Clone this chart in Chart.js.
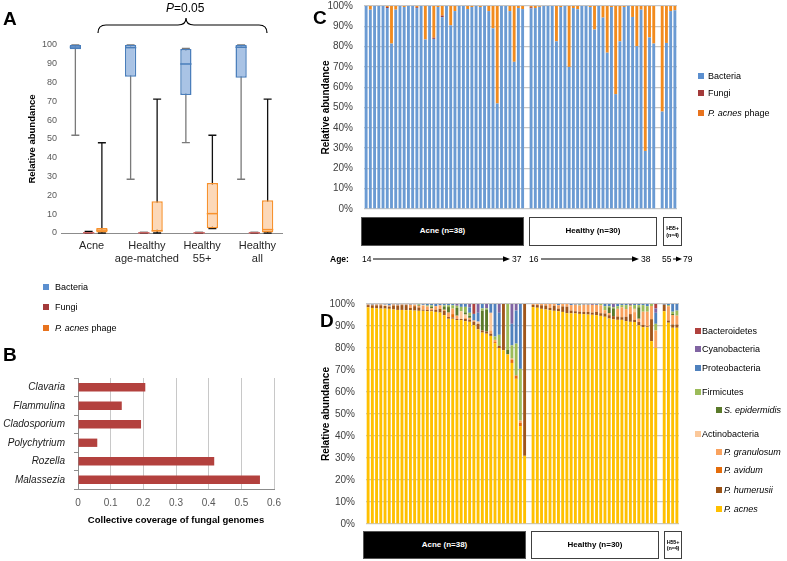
<!DOCTYPE html>
<html>
<head>
<meta charset="utf-8">
<script src="https://cdn.jsdelivr.net/npm/chart.js@4.4.1/dist/chart.umd.min.js"></script>
<style>
  body { margin: 0; background: #fff; }
  #page { position: relative; width: 787px; height: 561px; overflow: hidden; font-family: 'Liberation Sans', Arial, sans-serif; color: #000; }
  canvas { position: absolute; }
  .t { position: absolute; line-height: 1; white-space: nowrap; transform: translateY(-50%); }
  .letter { font-size: 19px; font-weight: bold; }
  .lg { font-size: 9px; }
  .sq { position: absolute; width: 6px; height: 6px; }
  .grp { position: absolute; box-sizing: border-box; display: flex; align-items: center; justify-content: center; text-align: center; font-weight: bold; font-size: 8px; line-height: 1.1; }
  .dark { background: #000; color: #fff; border: 1px solid #555; }
  .light { background: #fff; color: #000; border: 1.5px solid #404040; }
  .tiny { font-size: 5.5px; letter-spacing: -0.2px; }
  .age { font-size: 8.5px; }
  svg { position: absolute; left: 0; top: 0; }
</style>
</head>
<body>
<div id="page">
  <canvas id="chartA" width="300" height="270" style="left:0;top:0"></canvas>
  <canvas id="chartB" width="300" height="175" style="left:0;top:360px"></canvas>
  <canvas id="chartC" width="367" height="219" style="left:320px;top:-4px"></canvas>
  <canvas id="chartD" width="367" height="232" style="left:320px;top:298px"></canvas>

  <svg width="787" height="561">
    <path d="M98 33 Q98 25 106 25 L178 25 Q186 25 186 18 Q186 25 194 25 L259 25 Q267 25 267 33" fill="none" stroke="#000" stroke-width="1.2"/>
    <line x1="373" y1="259" x2="505" y2="259" stroke="#000" stroke-width="1"/>
    <polygon points="510,259 503,256.3 503,261.7" fill="#000"/>
    <line x1="541" y1="259" x2="634" y2="259" stroke="#000" stroke-width="1"/>
    <polygon points="639,259 632,256.3 632,261.7" fill="#000"/>
    <line x1="673" y1="259" x2="678" y2="259" stroke="#000" stroke-width="1"/>
    <polygon points="682,259 676,256.5 676,261.5" fill="#000"/>
  </svg>

  <!-- panel letters -->
  <div class="t letter" style="left:3px;top:18px">A</div>
  <div class="t letter" style="left:3px;top:354px">B</div>
  <div class="t letter" style="left:313px;top:17px">C</div>
  <div class="t letter" style="left:320px;top:320px">D</div>

  <div class="t" style="left:166px;top:8px;font-size:12px"><i>P</i>=0.05</div>

  <!-- legend A -->
  <div class="sq" style="left:43px;top:284px;background:#5B8FCF"></div>
  <div class="t lg" style="left:55px;top:287px">Bacteria</div>
  <div class="sq" style="left:43px;top:304px;background:#A33A3A"></div>
  <div class="t lg" style="left:55px;top:307px">Fungi</div>
  <div class="sq" style="left:43px;top:325px;background:#E8731E"></div>
  <div class="t lg" style="left:55px;top:328px"><i>P. acnes</i> phage</div>

  <!-- legend C -->
  <div class="sq" style="left:698px;top:73px;background:#5B8FCF"></div>
  <div class="t lg" style="left:708px;top:76px">Bacteria</div>
  <div class="sq" style="left:698px;top:90px;background:#A33A3A"></div>
  <div class="t lg" style="left:708px;top:93px">Fungi</div>
  <div class="sq" style="left:698px;top:110px;background:#E8731E"></div>
  <div class="t lg" style="left:708px;top:113px"><i>P. acnes</i> phage</div>

  <!-- groups under C -->
  <div class="grp dark" style="left:361px;top:217px;width:163px;height:29px">Acne (n=38)</div>
  <div class="grp light" style="left:529px;top:217px;width:128px;height:29px">Healthy (n=30)</div>
  <div class="grp light tiny" style="left:663px;top:217px;width:19px;height:29px">H55+<br>(n=4)</div>
  <div class="t age" style="left:330px;top:259px;font-weight:bold">Age:</div>
  <div class="t age" style="left:362px;top:259px">14</div>
  <div class="t age" style="left:512px;top:259px">37</div>
  <div class="t age" style="left:529px;top:259px">16</div>
  <div class="t age" style="left:641px;top:259px">38</div>
  <div class="t age" style="left:662px;top:259px">55</div>
  <div class="t age" style="left:683px;top:259px">79</div>

  <!-- legend D -->
  <div class="sq" style="left:695px;top:328px;background:#B0413E"></div>
  <div class="t lg" style="left:702px;top:331px">Bacteroidetes</div>
  <div class="sq" style="left:695px;top:346px;background:#8064A2"></div>
  <div class="t lg" style="left:702px;top:349px">Cyanobacteria</div>
  <div class="sq" style="left:695px;top:365px;background:#4F81BD"></div>
  <div class="t lg" style="left:702px;top:368px">Proteobacteria</div>
  <div class="sq" style="left:695px;top:389px;background:#9BBB59"></div>
  <div class="t lg" style="left:702px;top:392px">Firmicutes</div>
  <div class="sq" style="left:716px;top:407px;background:#5A7A2A"></div>
  <div class="t lg" style="left:724px;top:410px"><i>S. epidermidis</i></div>
  <div class="sq" style="left:695px;top:431px;background:#FBC89A"></div>
  <div class="t lg" style="left:702px;top:434px">Actinobacteria</div>
  <div class="sq" style="left:716px;top:449px;background:#F9A25E"></div>
  <div class="t lg" style="left:724px;top:452px"><i>P. granulosum</i></div>
  <div class="sq" style="left:716px;top:467px;background:#E46C0A"></div>
  <div class="t lg" style="left:724px;top:470px"><i>P. avidum</i></div>
  <div class="sq" style="left:716px;top:487px;background:#9C5214"></div>
  <div class="t lg" style="left:724px;top:490px"><i>P. humerusii</i></div>
  <div class="sq" style="left:716px;top:506px;background:#FFC000"></div>
  <div class="t lg" style="left:724px;top:509px"><i>P. acnes</i></div>

  <!-- groups under D -->
  <div class="grp dark" style="left:363px;top:531px;width:163px;height:28px">Acne (n=38)</div>
  <div class="grp light" style="left:531px;top:531px;width:128px;height:28px">Healthy (n=30)</div>
  <div class="grp light tiny" style="left:664px;top:531px;width:18px;height:28px">H55+<br>(n=4)</div>
</div>

<script>
Chart.defaults.font.family = "'Liberation Sans', Arial, sans-serif";
Chart.defaults.color = '#404040';

// ---- panel A: box plots (min, lower quartile, median, upper quartile, max)
const groupLabels = [['Acne'], ['Healthy', 'age-matched'], ['Healthy', '55+'], ['Healthy', 'all']];
const bacteriaBox = [[52, 97.7, 98.9, 100, 100], [28.6, 83.1, 98.6, 100, 100], [48.1, 73.4, 89.9, 97.9, 98.2], [28.6, 82.6, 98.8, 100, 100]];
const fungiBox = [[0, 0, 0.1, 0.4, 0.9], [0, 0, 0.1, 0.3, 0.3], [0, 0, 0.1, 0.3, 0.3], [0, 0, 0.1, 0.3, 0.3]];
const phageBox = [[0, 0.2, 1.5, 2.7, 48], [0, 0.9, 1.1, 16.9, 71.2], [2.3, 2.5, 10.3, 26.6, 52], [0, 0.2, 1.8, 17.4, 71.2]];
const yTicksA = { min: 0, max: 100, step: 10 };

// ---- panel B
const fungusNames = ['Clavaria', 'Flammulina', 'Cladosporium', 'Polychytrium', 'Rozella', 'Malassezia'];
const fungusCoverage = [0.206, 0.134, 0.193, 0.059, 0.417, 0.557];

// ---- panel C: 38 acne, 30 healthy, 4 healthy 55+ (percent)
const cBacteria = [100, 98.2, 100, 100, 100, 99.0, 81.5, 98.2, 100, 99.5, 100, 100, 99.0, 100, 83.5, 100, 83.8, 99.5, 94.5, 100,
  90.5, 97.5, 100, 100, 98.5, 99.5, 100, 99.5, 100, 97.5, 89.0, 52.0, 100, 100, 97.5, 72.5, 99.0, 98.5,
  98.8, 99.0, 99.6, 100, 100, 100, 82.6, 99.5, 100, 70.0, 99.0, 98.4, 100, 100, 99.5, 88.4, 100, 94.3, 77.0, 99.5,
  56.6, 82.6, 99.5, 100, 94.6, 80.2, 98.2, 28.6, 84.5, 81.5,
  48.0, 81.8, 97.5, 97.9];
const cFungi = [0, 0, 0, 0, 0, 0.5, 0, 0, 0, 0, 0, 0, 0.4, 0, 0, 0, 0.6, 0, 0.8, 0,
  0, 0, 0, 0, 0, 0, 0, 0, 0, 0, 0, 0, 0, 0, 0, 0, 0, 0,
  0.6, 0, 0, 0, 0, 0, 0, 0, 0, 0, 0, 0, 0, 0, 0, 0, 0, 0, 0, 0,
  0, 0, 0, 0, 0, 0, 0, 0, 0, 0,
  0, 0, 0, 0];
const cPhage = [0, 1.8, 0, 0, 0, 0.5, 18.5, 1.8, 0, 0.5, 0, 0, 0.6, 0, 16.5, 0, 15.6, 0.5, 4.7, 0,
  9.5, 2.5, 0, 0, 1.5, 0.5, 0, 0.5, 0, 2.5, 11.0, 48.0, 0, 0, 2.5, 27.5, 1.0, 1.5,
  0.6, 1.0, 0.4, 0, 0, 0, 17.4, 0.5, 0, 30.0, 1.0, 1.6, 0, 0, 0.5, 11.6, 0, 5.7, 23.0, 0.5,
  43.4, 17.4, 0.5, 0, 5.4, 19.8, 1.8, 71.4, 15.5, 18.5,
  52.0, 18.2, 2.5, 2.1];

// ---- panel D (percent)
const dAcnes = [98.5, 98.2, 98.0, 97.9, 97.9, 97.8, 97.5, 97.3, 97.3, 97.2, 97.2, 97.0, 96.9, 96.9, 96.7, 96.7, 96.4, 96.1, 94.9, 93.3,
  93.3, 92.7, 92.7, 92.2, 91.9, 90.4, 88.5, 87.0, 86.5, 85.5, 82.2, 80.0, 79.0, 77.1, 73.2, 66.0, 44.5, 31.0,
  98.6, 98.3, 97.8, 97.5, 97.2, 96.9, 96.7, 96.4, 95.8, 95.8, 95.7, 95.5, 95.4, 95.2, 95.1, 94.9, 94.6, 94.2, 93.4, 93.0,
  92.8, 92.8, 92.2, 91.9, 91.8, 90.3, 89.5, 89.4, 83.1, 80.0,
  96.7, 91.5, 89.2, 89.2];
const dHumerusii = [1.0, 1.2, 1.4, 1.5, 1.2, 1.0, 1.8, 2.0, 2.2, 2.3, 1.0, 2.0, 1.5, 0.5, 0.6, 0.5, 1.0, 1.7, 2.0, 0.8,
  0.6, 0.5, 0.5, 1.0, 1.0, 1.5, 2.5, 1.0, 1.0, 1.0, 0, 1.0, 21.0, 0, 0, 0, 0, 69.0,
  1.0, 1.2, 1.6, 1.8, 1.0, 2.3, 1.2, 2.5, 3.0, 1.2, 1.0, 1.0, 1.0, 1.2, 1.0, 1.5, 1.2, 1.5, 1.5, 1.5,
  1.5, 1.2, 2.0, 3.5, 1.0, 1.5, 1.0, 0.5, 10.0, 0,
  3.0, 1.0, 1.5, 1.5];
const dAvidum = [0, 0, 0, 0, 0, 0, 0, 0, 0, 0, 0, 0, 0, 0, 0, 0, 0, 0, 0, 0,
  1.5, 0, 0, 0, 0, 0, 0, 0, 0, 0, 0.5, 0, 0, 0, 1.5, 1.5, 1.5, 0,
  0, 0, 0, 0, 0, 0, 0, 0, 0, 0, 0, 0, 0, 0, 0, 0, 0, 0, 0, 0,
  0, 0, 0, 0, 0, 0, 0, 0, 0, 0,
  0, 0, 0, 0];
const dGranulosum = [0.3, 0.3, 0.4, 0.4, 0, 0.5, 0.5, 0.4, 0.3, 0.3, 1.5, 0.6, 0.8, 1.8, 1.6, 0.8, 1.6, 1.6, 0.5, 2.0,
  2.5, 1.5, 0, 0.5, 0.8, 0.6, 0, 0, 0, 1.5, 1.0, 0, 0, 0, 0.5, 0, 1.0, 0,
  0.4, 0.5, 0.6, 0.7, 1.8, 0.8, 1.5, 1.1, 1.2, 2.5, 3.0, 2.8, 3.3, 3.3, 3.5, 3.2, 3.6, 1.5, 1.0, 0,
  3.5, 4.5, 3.5, 3.5, 3.5, 1.5, 6.0, 6.6, 6.0, 8.0,
  0, 6.5, 4.3, 4.0];
const dActinoOther = [0, 0, 0, 0, 0.6, 0, 0, 0, 0, 0, 0, 0.2, 0, 0.4, 0, 0, 0, 0, 0, 0,
  0, 0, 3.5, 1.5, 0, 0, 1.0, 0, 0, 8.0, 0, 0, 0, 0, 0, 0, 0, 0,
  0, 0, 0, 0, 0, 0, 0, 0, 0, 0, 0, 0, 0, 0, 0, 0, 0, 0, 0, 0,
  0, 0, 0, 0, 1.5, 0, 0, 0, 0, 0,
  0, 0, 0, 0];
const dEpidermidis = [0, 0, 0, 0, 0, 0, 0, 0, 0, 0, 0, 0, 0.3, 0, 0, 0.8, 0, 0, 1.5, 2.5,
  0, 3.5, 0, 1.0, 1.0, 0, 0, 9.0, 10.0, 0, 0, 0, 0, 2.0, 0, 0, 0, 0,
  0, 0, 0, 0, 0, 0, 0, 0, 0, 0, 0, 0, 0, 0, 0, 0, 0, 0, 2.6, 3.5,
  0, 0, 0, 0, 0, 5.2, 0, 0, 0, 0,
  0, 0, 0.5, 0];
const dFirmicutes = [0, 0, 0, 0, 0, 0, 0, 0, 0, 0, 0, 0, 0.3, 0, 0.5, 0.6, 0, 0, 0.5, 0.8,
  1.5, 1.0, 2.0, 2.5, 1.3, 0, 0, 1.0, 0.5, 0, 1.5, 5.0, 0, 20.9, 6.0, 14.5, 23.5, 0,
  0, 0, 0, 0, 0, 0, 0, 0, 0, 0, 0, 0.4, 0, 0, 0, 0, 0.6, 1.8, 0.5, 0.5,
  1.2, 1.0, 1.8, 0.6, 1.7, 1.0, 3.0, 2.5, 0.9, 3.0,
  0, 0.5, 1.0, 2.3];
const dProteo = [0.2, 0.3, 0.2, 0.2, 0.3, 0.7, 0.2, 0.3, 0.2, 0.2, 0.3, 0.2, 0.2, 0.4, 0.6, 0.6, 1.0, 0.6, 0.6, 0.6,
  0.6, 0, 1.3, 1.3, 2.5, 3.0, 4.0, 2.0, 0, 4.0, 14.8, 10.0, 0, 0, 9.8, 15.0, 29.5, 0,
  0, 0, 0, 0, 0, 0, 0.6, 0, 0, 0.5, 0.3, 0.3, 0.3, 0.3, 0, 0.4, 0, 1.0, 1.0, 0,
  1.0, 0.5, 0.5, 0, 0.5, 0.5, 0.5, 1.0, 0, 5.0,
  0.3, 0.5, 3.5, 3.0];
const dCyano = [0, 0, 0, 0, 0, 0, 0, 0, 0, 0, 0, 0, 0, 0, 0, 0, 0, 0, 0, 0,
  0, 0.8, 0, 0, 1.5, 0, 4.0, 0, 2.0, 0, 0, 4.0, 0, 0, 9.0, 3.0, 0, 0,
  0, 0, 0, 0, 0, 0, 0, 0, 0, 0, 0, 0, 0, 0, 0.4, 0, 0, 0, 0, 1.5,
  0, 0, 0, 0.5, 0, 0, 0, 0, 0, 2.0,
  0, 0, 0, 0];
const dBacteroid = [0, 0, 0, 0, 0, 0, 0, 0, 0, 0, 0, 0, 0, 0, 0, 0, 0, 0, 0, 0,
  0, 0, 0, 0, 0, 4.5, 0, 0, 0, 0, 0, 0, 0, 0, 0, 0, 0, 0,
  0, 0, 0, 0, 0, 0, 0, 0, 0, 0, 0, 0, 0, 0, 0, 0, 0, 0, 0, 0,
  0, 0, 0, 0, 0, 0, 0, 0, 0, 2.0,
  0, 0, 0, 0];

// 38 acne, 30 healthy, 4 older; one empty slot between groups
function slots(values, gap) {
  return [...values.slice(0, 38), gap, ...values.slice(38, 68), gap, ...values.slice(68)];
}
const sampleLabels = slots(cBacteria.map((v, i) => i < 38 ? 'Acne ' + (i + 1) : i < 68 ? 'Healthy ' + (i - 37) : 'H55+ ' + (i - 67)), '');

// whiskers, caps and medians for the box plot
const boxPlot = {
  id: 'boxPlot',
  beforeDatasetsDraw(chart) {
    const ctx = chart.ctx, y = chart.scales.y;
    chart.data.datasets.forEach((ds, di) => {
      chart.getDatasetMeta(di).data.forEach((bar, i) => {
        const s = ds.stats[i];
        const top = y.getPixelForValue(s[4]), bot = y.getPixelForValue(s[0]);
        ctx.save();
        ctx.strokeStyle = ds.whiskerColor;
        ctx.lineWidth = 1.3;
        ctx.beginPath();
        ctx.moveTo(bar.x, top); ctx.lineTo(bar.x, bot);
        ctx.moveTo(bar.x - 4, top); ctx.lineTo(bar.x + 4, top);
        ctx.moveTo(bar.x - 4, bot); ctx.lineTo(bar.x + 4, bot);
        ctx.stroke();
        ctx.restore();
      });
    });
  },
  afterDatasetsDraw(chart) {
    const ctx = chart.ctx, y = chart.scales.y;
    chart.data.datasets.forEach((ds, di) => {
      chart.getDatasetMeta(di).data.forEach((bar, i) => {
        const m = y.getPixelForValue(ds.stats[i][2]);
        ctx.save();
        ctx.strokeStyle = ds.borderColor;
        ctx.lineWidth = 1.5;
        ctx.beginPath();
        ctx.moveTo(bar.x - bar.width / 2, m); ctx.lineTo(bar.x + bar.width / 2, m);
        ctx.stroke();
        ctx.restore();
      });
    });
  }
};

function boxSet(stats, fill, border, whisker) {
  return {
    data: stats.map(s => [s[1], s[3]]),
    stats: stats,
    backgroundColor: fill,
    borderColor: border,
    whiskerColor: whisker,
    borderWidth: 1.5,
    borderSkipped: false
  };
}

new Chart(document.getElementById('chartA'), {
  type: 'bar',
  data: {
    labels: groupLabels,
    datasets: [
      boxSet(bacteriaBox, '#A9C3E5', '#4A7EBB', '#7A7A7A'),
      boxSet(fungiBox, '#E8BDBC', '#D06A68', '#000'),
      boxSet(phageBox, '#FCD8B8', '#F7922E', '#111')
    ]
  },
  plugins: [boxPlot],
  options: {
    responsive: false,
    animation: false,
    layout: { padding: { top: 45, right: 18, left: 0, bottom: 0 } },
    plugins: { legend: { display: false }, tooltip: { enabled: false } },
    datasets: { bar: { categoryPercentage: 0.72, barPercentage: 0.85 } },
    scales: {
      x: {
        afterFit: s => { s.height = 37; },
        grid: { display: false, drawTicks: false },
        border: { display: true, color: '#8C8C8C', width: 1 },
        ticks: { padding: 6, labelOffset: 3, maxRotation: 0, minRotation: 0, autoSkip: false, color: '#262626', font: { size: 11 } }
      },
      y: {
        min: yTicksA.min, max: yTicksA.max,
        afterFit: s => { s.width = 61; },
        grid: { display: false, drawTicks: false },
        border: { display: false },
        ticks: { stepSize: yTicksA.step, padding: 4, color: '#595959', font: { size: 9 } },
        title: { display: true, text: 'Relative abundance', color: '#000', font: { size: 9.5, weight: 'bold' }, padding: { top: 27, bottom: 0 } }
      }
    }
  }
});

new Chart(document.getElementById('chartB'), {
  type: 'bar',
  data: {
    labels: fungusNames,
    datasets: [{ data: fungusCoverage, backgroundColor: '#B3413E', barPercentage: 0.45, categoryPercentage: 1 }]
  },
  options: {
    indexAxis: 'y',
    responsive: false,
    animation: false,
    layout: { padding: { top: 18, right: 26, left: 0, bottom: 0 } },
    plugins: { legend: { display: false }, tooltip: { enabled: false } },
    scales: {
      x: {
        min: 0, max: 0.6,
        afterFit: s => { s.height = 46; },
        grid: { color: '#C8C8C8', drawTicks: false },
        border: { display: true, color: '#8C8C8C' },
        ticks: { stepSize: 0.1, padding: 8, color: '#595959', font: { size: 10 } },
        title: { display: true, text: 'Collective coverage of fungal genomes', color: '#000', font: { size: 9.5, weight: 'bold' }, padding: { top: 0, bottom: 9 } }
      },
      y: {
        afterFit: s => { s.width = 78; },
        grid: { drawOnChartArea: false, drawTicks: true, tickLength: 4, color: '#8C8C8C' },
        border: { display: true, color: '#8C8C8C' },
        ticks: { padding: 9, color: '#1a1a1a', font: { size: 10, style: 'italic' } }
      }
    }
  }
});

// tick gap is made with an invisible tick mark so it does not pad the plot vertically
function stackedOptions(yWidth, tickGap, padding) {
  return {
    responsive: false,
    animation: false,
    layout: { padding: padding },
    plugins: { legend: { display: false }, tooltip: { enabled: false } },
    datasets: { bar: { barPercentage: 0.68, categoryPercentage: 1 } },
    scales: {
      x: { stacked: true, display: false },
      y: {
        stacked: true, min: 0, max: 100,
        afterFit: s => { s.width = yWidth; },
        grid: { color: '#C6C6C6', lineWidth: 1.3, drawTicks: true, tickLength: tickGap, tickColor: 'rgba(0,0,0,0)' },
        border: { display: false },
        ticks: { stepSize: 10, padding: 0, color: '#404040', font: { size: 10 }, callback: v => v + '%' },
        title: { display: true, text: 'Relative abundance', color: '#000', font: { size: 10, weight: 'bold' }, padding: { top: 0, bottom: 0 } }
      }
    }
  };
}

new Chart(document.getElementById('chartC'), {
  type: 'bar',
  data: {
    labels: sampleLabels,
    datasets: [
      { label: 'Bacteria', data: slots(cBacteria, null), backgroundColor: '#6B9BD3' },
      { label: 'Fungi', data: slots(cFungi, null), backgroundColor: '#A33A3A' },
      { label: 'P. acnes phage', data: slots(cPhage, null), backgroundColor: '#F28B1E' }
    ]
  },
  options: stackedOptions(44, 11, { top: 10, right: 10, bottom: 6, left: 0 })
});

new Chart(document.getElementById('chartD'), {
  type: 'bar',
  data: {
    labels: sampleLabels,
    datasets: [
      { label: 'P. acnes', data: slots(dAcnes, null), backgroundColor: '#FFC000' },
      { label: 'P. humerusii', data: slots(dHumerusii, null), backgroundColor: '#A0561B' },
      { label: 'P. avidum', data: slots(dAvidum, null), backgroundColor: '#E46C0A' },
      { label: 'P. granulosum', data: slots(dGranulosum, null), backgroundColor: '#F9A25E' },
      { label: 'Actinobacteria', data: slots(dActinoOther, null), backgroundColor: '#FBC89A' },
      { label: 'S. epidermidis', data: slots(dEpidermidis, null), backgroundColor: '#5A7A2A' },
      { label: 'Firmicutes', data: slots(dFirmicutes, null), backgroundColor: '#9BBB59' },
      { label: 'Proteobacteria', data: slots(dProteo, null), backgroundColor: '#4F81BD' },
      { label: 'Cyanobacteria', data: slots(dCyano, null), backgroundColor: '#8064A2' },
      { label: 'Bacteroidetes', data: slots(dBacteroid, null), backgroundColor: '#B0413E' }
    ]
  },
  options: stackedOptions(46, 11, { top: 6, right: 8, bottom: 6, left: 0 })
});
</script>
</body>
</html>
